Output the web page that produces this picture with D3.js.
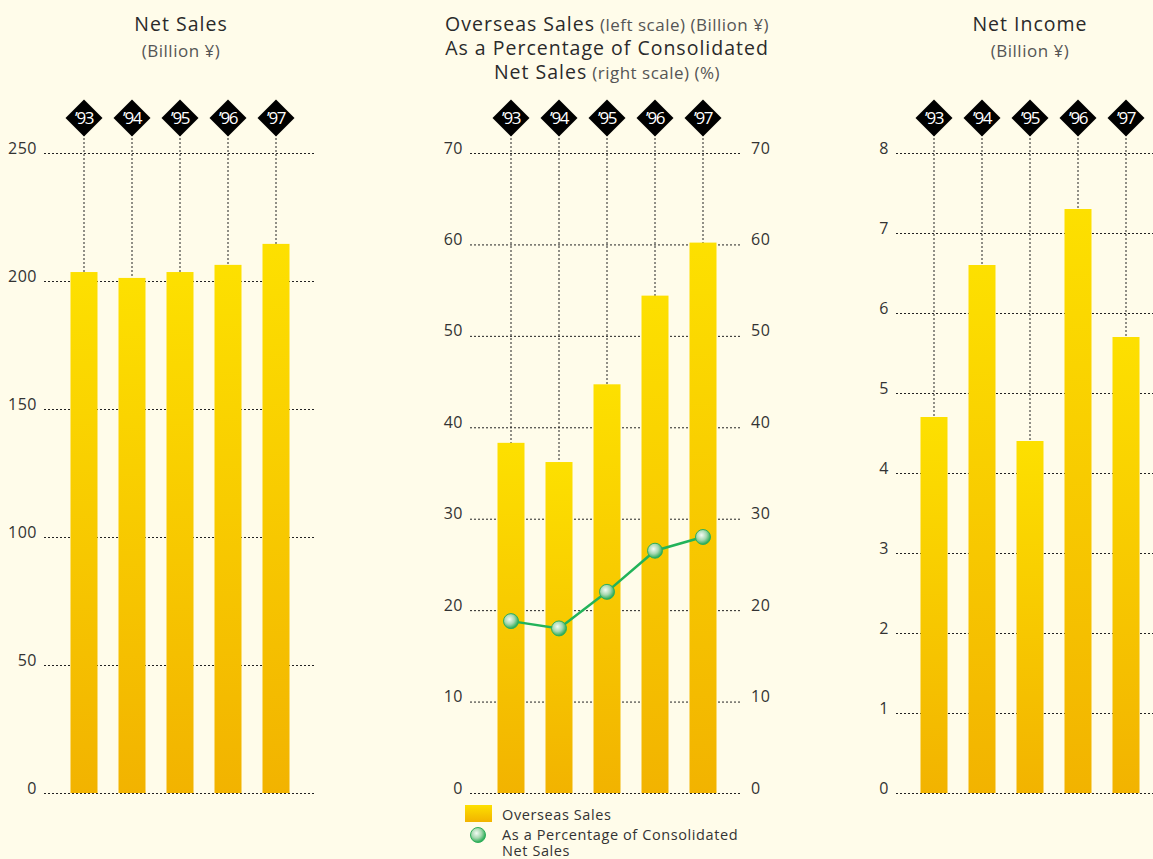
<!DOCTYPE html>
<html>
<head>
<meta charset="utf-8">
<script src="https://cdn.jsdelivr.net/npm/d3@7"></script>
<style>
  html, body { margin: 0; padding: 0; background: #fffcea; }
  svg { display: block; font-family: "Open Sans", sans-serif; }
</style>
</head>
<body>
<svg id="chart" width="1153" height="859"></svg>
<script>
// 数据
const years = ["\u201993", "\u201994", "\u201995", "\u201996", "\u201997"];
const netSales = [203.5, 201.2, 203.5, 206.3, 214.5];
const overseasSales = [38.3, 36.2, 44.7, 54.4, 60.2];
const overseasPct = [18.8, 18.0, 22.0, 26.5, 28.0];
const netIncome = [4.7, 6.6, 4.4, 7.3, 5.7];

const salesTicks = [0, 50, 100, 150, 200, 250];
const overseasTicks = [0, 10, 20, 30, 40, 50, 60, 70];
const incomeTicks = [0, 1, 2, 3, 4, 5, 6, 7, 8];

const svg = d3.select("#chart");
const yTop = 153, yBottom = 793;
const barW = 27;
const textColor = "#333";
const fontFamily = "'Open Sans', sans-serif";

// 渐变
const defs = svg.append("defs");
const barGrad = defs.append("linearGradient")
    .attr("id", "barGrad").attr("x1", 0).attr("y1", 0).attr("x2", 0).attr("y2", 1);
barGrad.append("stop").attr("offset", "0%").attr("stop-color", "#fde000");
barGrad.append("stop").attr("offset", "100%").attr("stop-color", "#f2b300");

const dotGrad = defs.append("radialGradient")
    .attr("id", "dotGrad").attr("cx", "40%").attr("cy", "38%").attr("r", "60%");
dotGrad.append("stop").attr("offset", "0%").attr("stop-color", "#f4fbf4");
dotGrad.append("stop").attr("offset", "55%").attr("stop-color", "#a6d8b0");
dotGrad.append("stop").attr("offset", "100%").attr("stop-color", "#2fae5a");

/**
 * 绘制一个面板
 */
function drawPanel(opts) {
    let g = svg.append("g");

    let x = d3.scalePoint()
        .domain(years)
        .range([opts.firstX, opts.firstX + 48 * 4]);

    let y = d3.scaleLinear()
        .domain([0, opts.ticks[opts.ticks.length - 1]])
        .range([yBottom, yTop]);

    // 网格线
    let axis = d3.axisLeft(y)
        .tickValues(opts.ticks)
        .tickSize(-(opts.gridX1 - opts.gridX0))
        .tickPadding(7);

    let ax = g.append("g")
        .attr("transform", "translate(" + opts.gridX0 + ",0)")
        .call(axis);
    ax.select(".domain").remove();
    ax.selectAll("line")
        .attr("stroke", "#222")
        .attr("stroke-dasharray", "2,2");
    ax.selectAll("text")
        .attr("fill", textColor)
        .attr("font-size", 16)
        .attr("font-family", fontFamily)
        .attr("letter-spacing", "0.5")
        .attr("dy", "0");

    if (opts.rightTicks) {
        let rax = g.append("g")
            .attr("transform", "translate(" + opts.gridX1 + ",0)")
            .call(d3.axisRight(y).tickValues(opts.rightTicks).tickSize(0).tickPadding(9));
        rax.select(".domain").remove();
        rax.selectAll("text")
            .attr("fill", textColor)
            .attr("font-size", 16)
            .attr("font-family", fontFamily)
            .attr("letter-spacing", "0.5")
            .attr("dy", "0");
    }

    // 竖直虚线
    g.selectAll(".vline")
        .data(years)
        .enter()
        .append("line")
        .attr("x1", d => x(d))
        .attr("x2", d => x(d))
        .attr("y1", 130)
        .attr("y2", yBottom)
        .attr("stroke", "#222")
        .attr("stroke-dasharray", "2,2");

    // 柱子
    g.selectAll(".bar")
        .data(opts.values)
        .enter()
        .append("rect")
        .attr("x", (d, i) => x(years[i]) - barW / 2)
        .attr("y", d => y(d))
        .attr("width", barW)
        .attr("height", d => yBottom - y(d))
        .attr("fill", "url(#barGrad)");

    // 菱形年份
    let tag = g.selectAll(".tag")
        .data(years)
        .enter()
        .append("g")
        .attr("transform", d => "translate(" + x(d) + ",118)");
    tag.append("path")
        .attr("d", "M0,-18.5L18.5,0L0,18.5L-18.5,0Z")
        .attr("fill", "#000");
    tag.append("text")
        .attr("text-anchor", "middle")
        .attr("dy", "0.36em")
        .attr("fill", "#fff")
        .attr("font-size", 17)
        .attr("letter-spacing", "-1.5")
        .text(d => d);

    // 标题（一个 text，多行 tspan）
    let t = g.append("text")
        .attr("text-anchor", "middle")
        .attr("fill", textColor)
        .attr("x", opts.titleX)
        .attr("y", opts.titleY[0]);
    opts.title.forEach((line, i) => {
        line.forEach((part, j) => {
            let s = t.append("tspan")
                .attr("font-size", part.big ? 19.5 : 17)
                .attr("letter-spacing", part.big ? "1" : "0.5")
                .attr("fill", part.big ? "#2a2a2a" : "#555")
                .text(part.t);
            if (i > 0 && j === 0) {
                s.attr("x", opts.titleX).attr("y", opts.titleY[i]);
            }
        });
    });

    return {x: x, y: y, g: g};
}

drawPanel({
    values: netSales, ticks: salesTicks,
    firstX: 84, gridX0: 44, gridX1: 316, titleX: 181, titleY: [31, 57],
    title: [[{t: "Net Sales", big: true}], [{t: "(Billion \u00a5)"}]]
});

let p2 = drawPanel({
    values: overseasSales, ticks: overseasTicks, rightTicks: overseasTicks,
    firstX: 511, gridX0: 470, gridX1: 742, titleX: 607, titleY: [31, 55, 79],
    title: [
        [{t: "Overseas Sales", big: true}, {t: " (left scale) (Billion \u00a5)"}],
        [{t: "As a Percentage of Consolidated", big: true}],
        [{t: "Net Sales", big: true}, {t: " (right scale) (%)"}]
    ]
});

drawPanel({
    values: netIncome, ticks: incomeTicks,
    firstX: 934, gridX0: 896, gridX1: 1160, titleX: 1030, titleY: [31, 57],
    title: [[{t: "Net Income", big: true}], [{t: "(Billion \u00a5)"}]]
});

// 折线（右轴同一刻度）
let line = d3.line()
    .x((d, i) => p2.x(years[i]))
    .y(d => p2.y(d));

p2.g.append("path")
    .datum(overseasPct)
    .attr("d", line)
    .attr("fill", "none")
    .attr("stroke", "#22b35a")
    .attr("stroke-width", 2.5);

p2.g.selectAll(".dot")
    .data(overseasPct)
    .enter()
    .append("circle")
    .attr("cx", (d, i) => p2.x(years[i]))
    .attr("cy", d => p2.y(d))
    .attr("r", 7.5)
    .attr("fill", "url(#dotGrad)")
    .attr("stroke", "#2fae5a")
    .attr("stroke-width", 1);

// 图例
let legend = svg.append("g").attr("fill", textColor).attr("font-size", 14.5).attr("letter-spacing", "0.6");
legend.append("rect")
    .attr("x", 465).attr("y", 805).attr("width", 27).attr("height", 17)
    .attr("fill", "url(#barGrad)");
legend.append("text").attr("x", 502).attr("y", 820).text("Overseas Sales");
legend.append("circle")
    .attr("cx", 478).attr("cy", 835).attr("r", 7.5)
    .attr("fill", "url(#dotGrad)")
    .attr("stroke", "#2fae5a");
let lt = legend.append("text").attr("x", 502).attr("y", 840);
lt.append("tspan").text("As a Percentage of Consolidated");
lt.append("tspan").attr("x", 502).attr("y", 856).text("Net Sales");
</script>
</body>
</html>
